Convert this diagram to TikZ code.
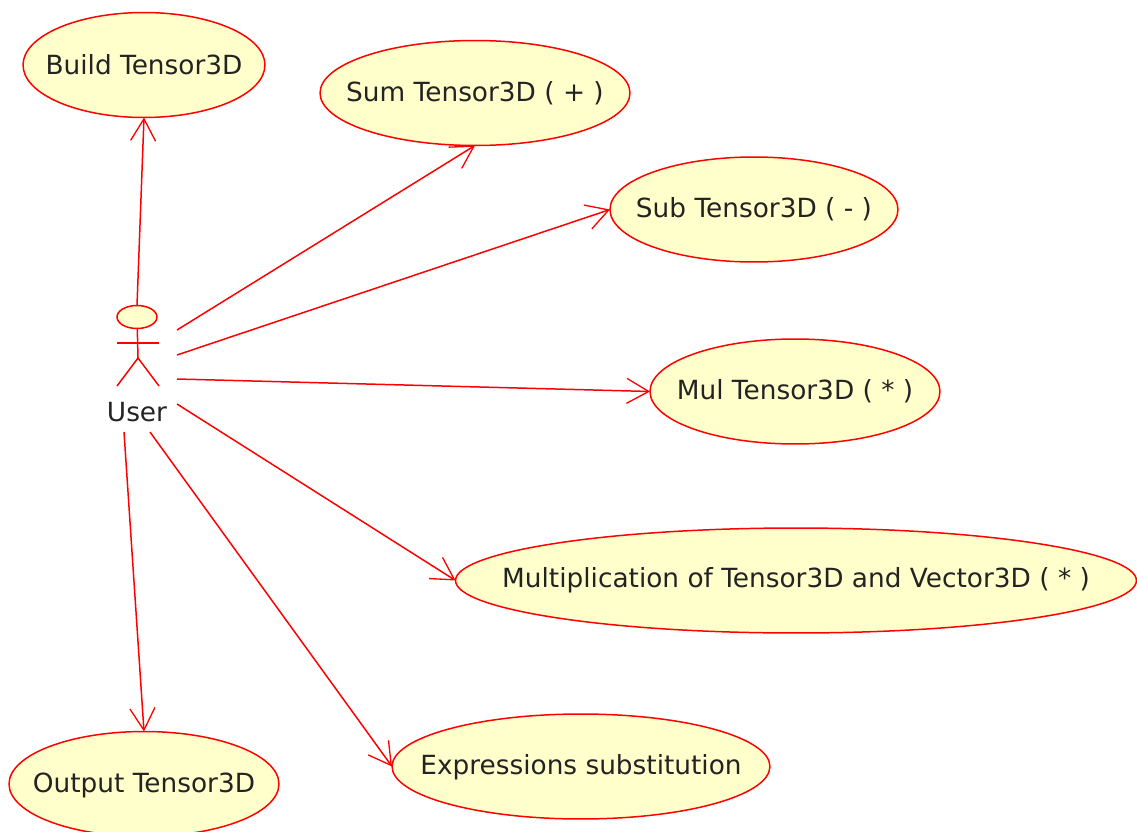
\documentclass[tikz,border=0pt]{standalone}
\usepackage{fontspec}
\setmainfont{DejaVu Sans}
\usetikzlibrary{arrows.meta,shapes.geometric}
\definecolor{casefill}{RGB}{255,255,204}
\definecolor{textgray}{RGB}{35,35,35}
\begin{document}
\begin{tikzpicture}[x=0.02cm,y=-0.02cm,line width=0.85pt,>={Straight Barb[length=0.44cm,width=0.5cm,line width=0.75pt]}]
  \tikzstyle{usecase}=[ellipse,draw=red,fill=casefill,inner sep=0pt,outer sep=0pt,minimum height=2.1cm]
  \tikzstyle{every label}=[text=textgray,font=\fontsize{15}{18}\selectfont]
  \tikzstyle{limb}=[draw=red]
  \useasboundingbox (0,0) rectangle (1137,832);
  \node[usecase,minimum width=4.84cm,label={[yshift=0.4pt]center:{Build Tensor3D}}] at (144,65) (build) {};
  \node[usecase,minimum width=6.2cm,label=center:{Sum Tensor3D ( + )}] at (475,93) (sum) {};
  \node[usecase,minimum width=5.76cm,label=center:{Sub Tensor3D ( - )}] at (754,209.5) (sub) {};
  \node[usecase,minimum width=5.8cm,label=center:{Mul Tensor3D ( * )}] at (795,391.5) (mul) {};
  \node[usecase,minimum width=13.62cm,label=center:{Multiplication of Tensor3D and Vector3D ( * )}] at (796,580.5) (vec) {};
  \node[usecase,minimum width=7.56cm,label={[yshift=-0.5pt]center:{Expressions substitution}}] at (581,766.5) (subst) {};
  \node[usecase,minimum width=5.4cm,label={[yshift=-0.7pt]center:{Output Tensor3D}}] at (144,784) (output) {};
  % actor
  \node[ellipse,draw=red,fill=casefill,inner sep=0pt,outer sep=0pt,minimum width=0.8cm,minimum height=0.46cm] at (137,317) (head) {};
  \coordinate (hip) at (138,358);
  \coordinate (armL) at (117,343);
  \coordinate (armR) at (159,343);
  \coordinate (footL) at (117,386);
  \coordinate (footR) at (159,386);
  \draw[limb] (head) -- (hip);
  \draw[limb] (armL) -- (armR);
  \draw[limb] (footL) -- (hip) -- (footR);
  \node[text=textgray,font=\fontsize{15}{18}\selectfont] at (137,412) (user) {User};
  % free ends of the connectors
  \coordinate (a1) at (177,330);
  \coordinate (a2) at (177,355);
  \coordinate (a3) at (177,379);
  \coordinate (a4) at (177,404);
  \coordinate (a5) at (150,432);
  \coordinate (a6) at (124,432);
  \foreach \i/\j in {a1/sum.south,a2/sub.west,a3/mul.west,a4/vec.west,a5/subst.west,a6/output.north}{
    \draw[red,->] (\i) -- (\j);
  }
  \draw[red,->] (head.north) -- (build.south);
\end{tikzpicture}
\end{document}
